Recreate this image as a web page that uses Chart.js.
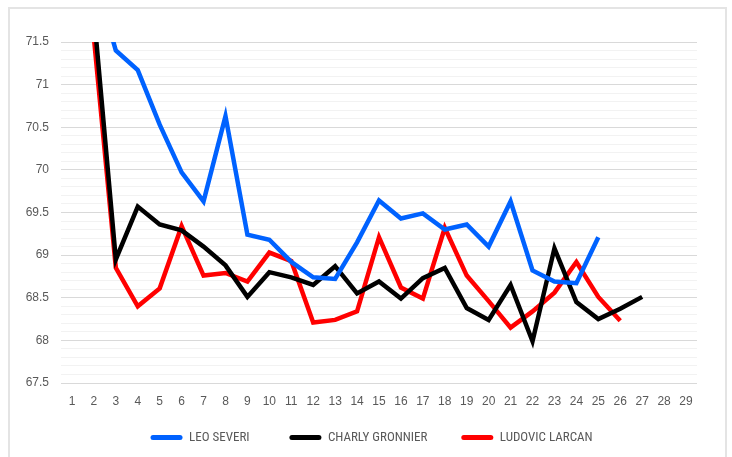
<html>
<head>
<style>
body { margin: 0; background: #ffffff; }
div.chart-frame {
    position: absolute;
    left: 8px;
    top: 7px;
    width: 719px;
    height: 460px;
    border: 2px solid #e4e4e4;
    box-sizing: border-box;
}
canvas#lapChart { position: absolute; left: 0; top: 0; }
</style>
<script src="https://cdn.jsdelivr.net/npm/chart.js"></script>
</head>
<body>
<div class="chart-frame"></div>
<canvas id="lapChart" width="732" height="457"></canvas>

<script>
// laps 1..29
const laps = ['1','2','3','4','5','6','7','8','9','10','11','12','13','14','15',
              '16','17','18','19','20','21','22','23','24','25','26','27','28','29'];

const seriesNames = ['LEO SEVERI', 'CHARLY GRONNIER', 'LUDOVIC LARCAN'];

// lap times (s), laps 1-2 run off the top of the plot
const leoSeveri = [75.0, 72.3, 71.40, 71.17, 70.53, 69.97, 69.63, 70.63, 69.24, 69.18,
                   68.92, 68.74, 68.72, 69.15, 69.64, 69.43, 69.49, 69.30, 69.36, 69.10,
                   69.63, 68.82, 68.69, 68.67, 69.21, null, null, null, null];
const charlyGronnier = [74.0, 71.83, 68.95, 69.57, 69.36, 69.29, 69.10, 68.88, 68.51, 68.80,
                        68.74, 68.65, 68.87, 68.55, 68.69, 68.49, 68.73, 68.85, 68.38, 68.24,
                        68.65, 67.99, 69.08, 68.45, 68.25, 68.37, 68.51, null, null];
const ludovicLarcan = [74.0, 71.55, 68.85, 68.40, 68.61, 69.34, 68.76, 68.79, 68.69, 69.03,
                       68.93, 68.21, 68.24, 68.34, 69.21, 68.62, 68.49, 69.32, 68.76, 68.46,
                       68.15, 68.34, 68.56, 68.92, 68.51, 68.23, null, null, null];

const yMin = 67.5;
const yMax = 71.5;

const tickFont = { family: "'Liberation Sans', Arial, sans-serif", size: 12 };
const legendFont = { family: "'Liberation Sans Narrow', 'Roboto Condensed', 'Liberation Sans', sans-serif", size: 13 };

// trailing gaps after each legend entry (the original spaces them unevenly)
const legendGaps = ['          ', '        ', '     '];

function lineSet(label, data, color) {
    return {
        label: label,
        data: data,
        borderColor: color,
        backgroundColor: color,
        borderWidth: 4.5,
        pointRadius: 0,
        tension: 0
    };
}

const config = {
    type: 'line',
    data: {
        labels: laps,
        datasets: [
            lineSet(seriesNames[0], leoSeveri, '#0062ff'),
            lineSet(seriesNames[1], charlyGronnier, '#000000'),
            lineSet(seriesNames[2], ludovicLarcan, '#ff0000')
        ]
    },
    options: {
        responsive: false,
        animation: false,
        layout: { padding: { left: 0, right: 35, top: 42, bottom: 3 } },
        plugins: {
            tooltip: { enabled: false },
            legend: {
                position: 'bottom',
                fullSize: false,
                labels: {
                    boxWidth: 32,
                    boxHeight: 5,
                    padding: 10,
                    useBorderRadius: true,
                    borderRadius: 2.5,
                    color: '#595959',
                    font: legendFont,
                    generateLabels: function(chart) {
                        const items = Chart.defaults.plugins.legend.labels.generateLabels(chart);
                        items.forEach(function(it, i) {
                            it.text = it.text + legendGaps[i];
                            it.lineWidth = 0;
                        });
                        return items;
                    }
                }
            }
        },
        scales: {
            x: {
                offset: true,
                grid: { display: false },
                border: { display: false },
                ticks: { color: '#595959', font: tickFont, padding: 3, maxRotation: 0, autoSkip: false },
                afterFit: function(scale) { scale.height = 38; }
            },
            y: {
                min: yMin,
                max: yMax,
                border: { display: false },
                grid: {
                    drawTicks: false,
                    color: function(ctx) {
                        const v = Math.round(ctx.tick.value * 10);
                        return v % 5 === 0 ? '#d9d9d9' : '#f2f2f2';
                    }
                },
                ticks: {
                    stepSize: 0.1,
                    autoSkip: false,
                    color: '#595959',
                    font: tickFont,
                    padding: 12,
                    callback: function(value) {
                        const v = Math.round(value * 10);
                        if (v % 5 !== 0) return '';
                        return String(v / 10);
                    }
                },
                afterFit: function(scale) { scale.width = 61; }
            }
        }
    }
};

const lapChart = new Chart(document.getElementById('lapChart'), config);
</script>
</body>
</html>
